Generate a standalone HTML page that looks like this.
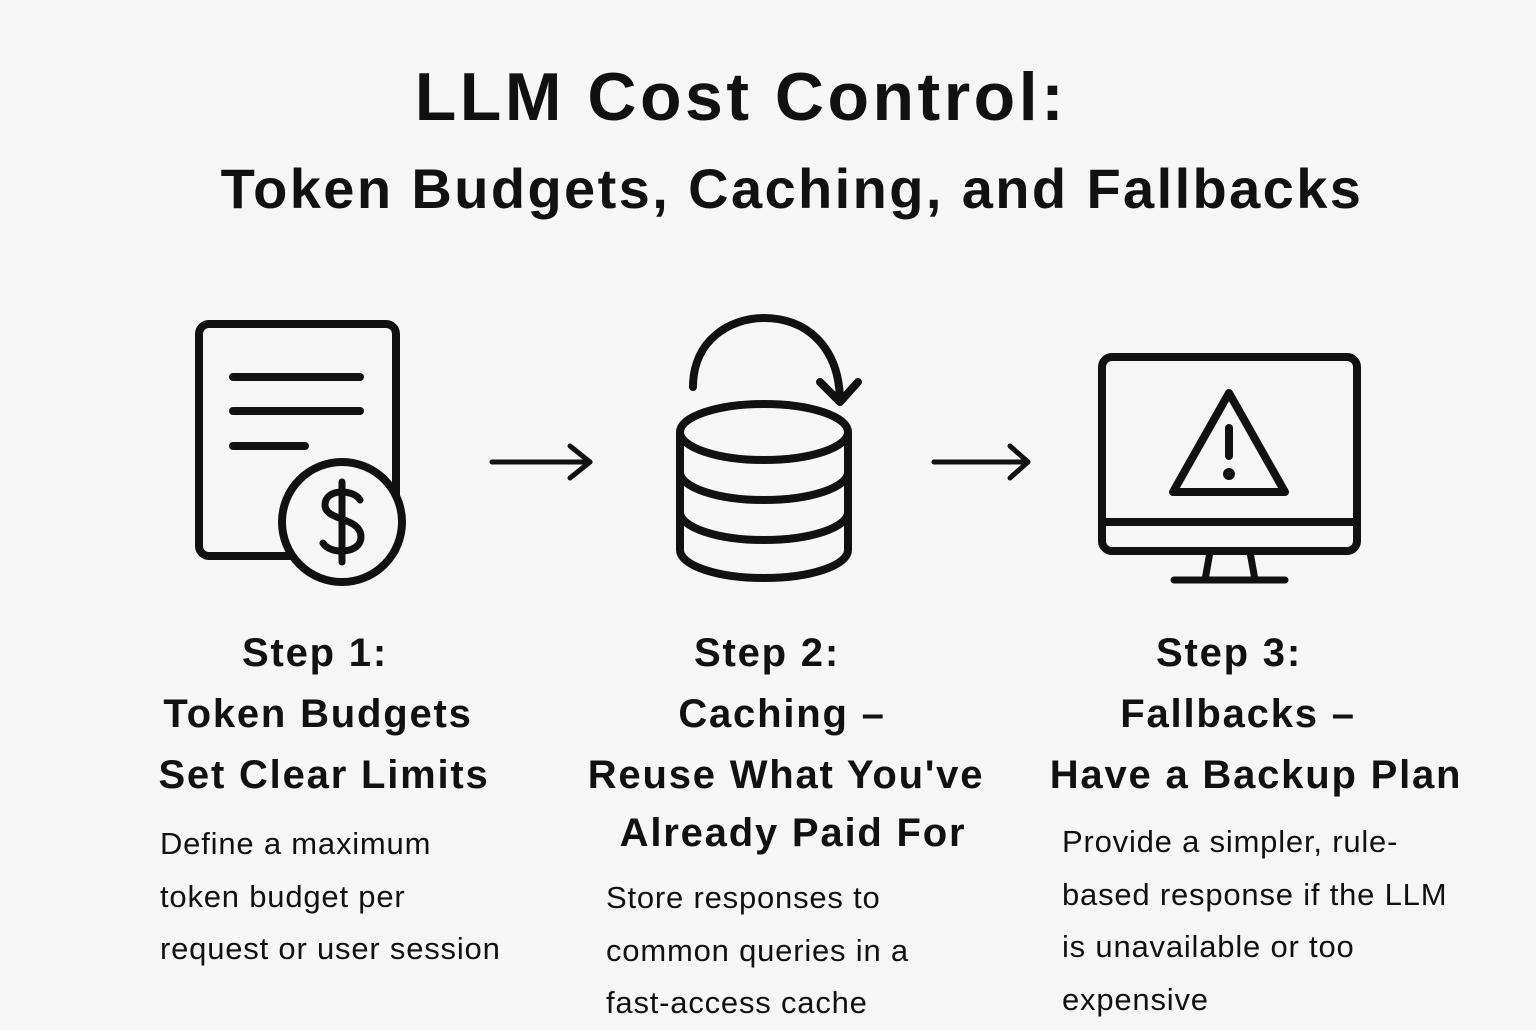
<!DOCTYPE html>
<html><head><meta charset="utf-8"><style>
body{margin:0;width:1536px;height:1024px;background:#f6f6f6;overflow:hidden;font-family:"Liberation Sans",sans-serif;color:#111;position:relative}
.t{position:absolute;white-space:nowrap;font-weight:bold}
.c{transform:translateX(-50%)}
.h{font-size:40px;letter-spacing:1.8px}
.d{position:absolute;white-space:nowrap;font-size:31px;font-weight:normal;line-height:52.5px;letter-spacing:0.8px}
</style></head><body>
<div class="t c" style="left:741px;top:58px;font-size:68px;letter-spacing:3.5px">LLM Cost Control:</div>
<div class="t c" style="left:792px;top:156px;font-size:56px;letter-spacing:2.4px">Token Budgets, Caching, and Fallbacks</div>

<svg width="1536" height="1024" style="position:absolute;left:0;top:0" fill="none" stroke="#111" stroke-width="8" stroke-linecap="round" stroke-linejoin="round">
<rect x="199" y="324" width="197" height="232" rx="10"/>
<line x1="233" y1="377" x2="360" y2="377"/><line x1="233" y1="411" x2="360" y2="411"/><line x1="233" y1="446" x2="305" y2="446"/>
<circle cx="342" cy="522" r="60" fill="#f6f6f6"/>
<path d="M360 500 C354 489 325 488 325 505 C325 521 361 517 361 537 C361 554 330 555 323 543" stroke-width="7"/>
<line x1="342" y1="482" x2="342" y2="562" stroke-width="7"/>
<line x1="492" y1="462" x2="590" y2="462" stroke-width="5"/><polyline points="570,446 590,462 570,478" stroke-width="5"/>
<line x1="934" y1="462" x2="1028" y2="462" stroke-width="5"/><polyline points="1010,446 1028,462 1010,478" stroke-width="5"/>
<ellipse cx="764" cy="432" rx="84" ry="28"/>
<path d="M680 432 V550 A84 28 0 0 0 848 550 V432"/>
<path d="M680 472 A84 28 0 0 0 848 472"/><path d="M680 512 A84 28 0 0 0 848 512"/>
<path d="M693 387 C693 340 730 318 764 318 C805 318 838 345 840 398"/>
<polyline points="820,382 840,402 858,382"/>
<rect x="1102" y="357" width="255" height="194" rx="10"/>
<line x1="1102" y1="522" x2="1357" y2="522"/>
<line x1="1210" y1="552" x2="1205" y2="580" stroke-width="7"/><line x1="1250" y1="552" x2="1255" y2="580" stroke-width="7"/>
<line x1="1174" y1="580" x2="1285" y2="580" stroke-width="7"/>
<path d="M1229 393 L1285 492 L1173 492 Z"/>
<line x1="1229" y1="428" x2="1229" y2="456"/><circle cx="1229" cy="474" r="2" fill="#111"/>
</svg>

<div class="t c h" style="left:315px;top:631px">Step 1:</div>
<div class="t c h" style="left:318px;top:692px">Token Budgets</div>
<div class="t c h" style="left:324px;top:753px">Set Clear Limits</div>
<div class="d" style="left:160px;top:818px">Define a maximum<br>token budget per<br>request or user session</div>

<div class="t c h" style="left:767px;top:631px">Step 2:</div>
<div class="t c h" style="left:782px;top:692px">Caching –</div>
<div class="t c h" style="left:786px;top:753px">Reuse What You've</div>
<div class="t c h" style="left:793px;top:811px">Already Paid For</div>
<div class="d" style="left:606px;top:872px">Store responses to<br>common queries in a<br>fast-access cache</div>

<div class="t c h" style="left:1229px;top:631px">Step 3:</div>
<div class="t c h" style="left:1238px;top:692px">Fallbacks –</div>
<div class="t c h" style="left:1256px;top:753px">Have a Backup Plan</div>
<div class="d" style="left:1062px;top:816px">Provide a simpler, rule-<br>based response if the LLM<br>is unavailable or too<br>expensive</div>
</body></html>
